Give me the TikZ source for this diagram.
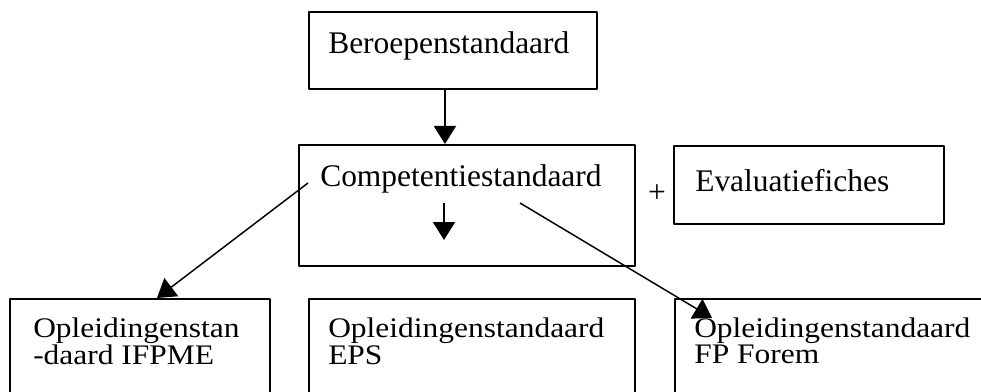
\documentclass[tikz,border=0pt]{standalone}
\usepackage{fontspec}
\setmainfont{Liberation Serif}
\usetikzlibrary{arrows.meta}
% twee regels, iets platgedrukt zoals in het origineel
\newcommand{\tweeregels}[2]{\scalebox{1}[0.9]{\fontsize{23.6}{21.7}\selectfont
  \begin{tabular}[t]{@{}l@{}}#1\\#2\end{tabular}}}
\begin{document}
\begin{tikzpicture}[x=0.75pt, y=-0.75pt, line join=round,
  font=\fontsize{23.6}{19.5}\selectfont,
  kader/.style={draw, line width=1.4pt, inner sep=0, anchor=north west},
  tekst/.style={inner sep=0, anchor=base west},
  pijl/.style={-{Triangle[width=16.5pt,length=13.5pt]}, line width=1.5pt},
  schuin/.style={-{Triangle[width=17pt,length=13.5pt]}, line width=1.1pt}]
% afmetingen in pixels van het origineel
\clip (0,0) rectangle (981,392);
% bovenste kaders
\node[kader, minimum width=216pt, minimum height=57.75pt] (beroep) at (308,11) {};
\node[kader, minimum width=252pt, minimum height=90.75pt] (compet) at (298,144) {};
\node[kader, minimum width=202.5pt, minimum height=58.5pt] (eval) at (673,145) {};
% onderste kaders (lopen door buiten beeld)
\node[kader, minimum width=195pt, minimum height=90pt] (ifpme) at (9,298) {};
\node[kader, minimum width=244.5pt, minimum height=90pt] (eps) at (308,298) {};
\node[kader, minimum width=244.5pt, minimum height=90pt] (forem) at (674,298) {};
% teksten
\node[tekst] (tberoep) at (328,54) {Beroepenstandaard};
\node[tekst] (tcompet) at (320,186) {Competentiestandaard};
\node[tekst] (teval) at (695,191) {Evaluatiefiches};
\node (plus) at (657,194) {+};
\node[tekst] (tifpme) at (33,337.5) {\tweeregels{Opleidingenstan}{-daard IFPME}};
\node[tekst] (teps) at (328,337.5) {\tweeregels{Opleidingenstandaard}{EPS}};
\node[tekst] (tforem) at (694,337.5) {\tweeregels{Opleidingenstandaard}{FP Forem}};
% pijlen
\draw[pijl] ([xshift=-6pt]beroep.south) -- ([xshift=-16.5pt]compet.north);
\coordinate (binnen) at (444,203);
\draw[pijl] (binnen) -- ++(0,37);
\coordinate (links) at (308,183);
\coordinate (rechts) at (520,203);
\draw[schuin] (links) -- ([xshift=111pt]ifpme.north west);
\draw[schuin] (rechts) -- ([xshift=28.5pt,yshift=-15pt]forem.north west);
\end{tikzpicture}
\end{document}
